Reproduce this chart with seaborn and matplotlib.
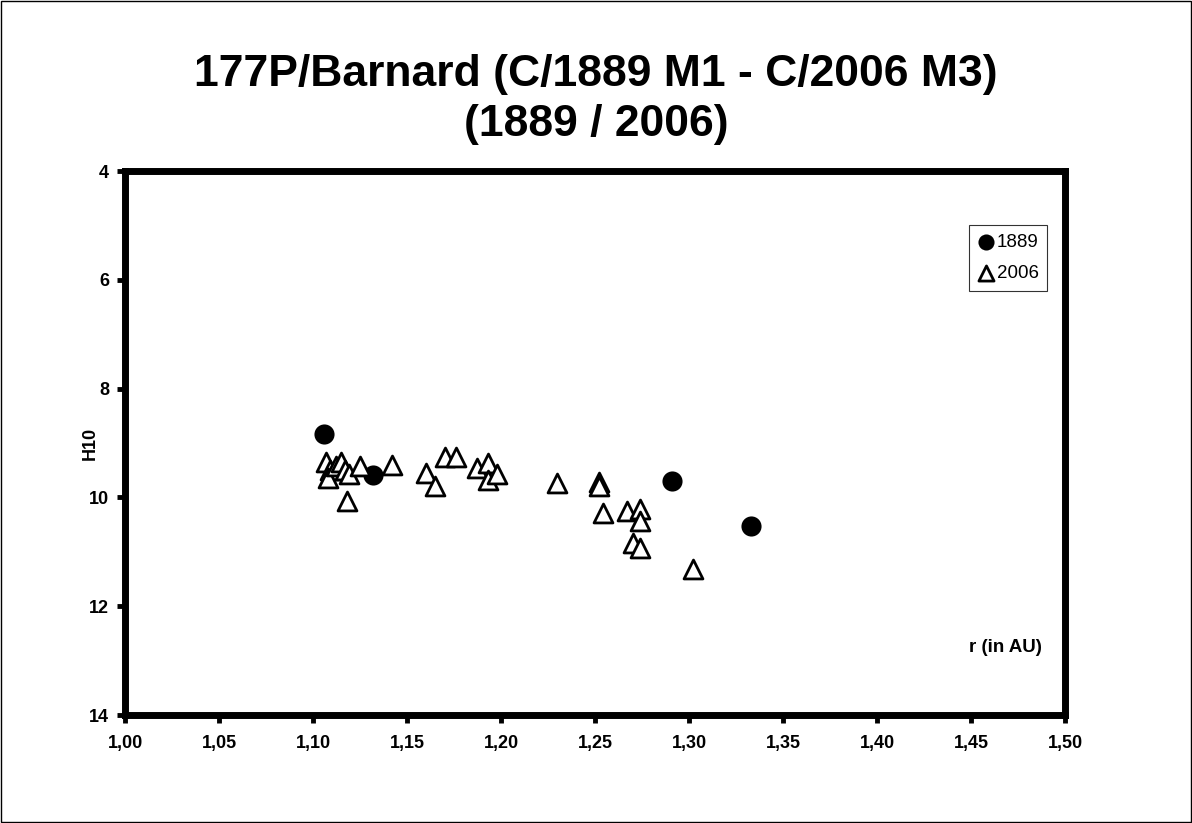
import pandas as pd
import matplotlib.pyplot as plt
import seaborn as sns
from matplotlib.patches import Rectangle

# 1889 apparition
r_1889 = [1.106, 1.132, 1.291, 1.333]
h_1889 = [8.83, 9.59, 9.70, 10.53]

# 2006 apparition
r_2006 = [1.107, 1.109, 1.108, 1.112, 1.115, 1.117, 1.119, 1.125, 1.118, 1.142,
          1.170, 1.176, 1.160, 1.165, 1.187, 1.193, 1.193, 1.198, 1.230, 1.252,
          1.252, 1.254, 1.267, 1.274, 1.274, 1.270, 1.274, 1.302]
h_2006 = [9.35, 9.50, 9.64, 9.42, 9.35, 9.50, 9.57, 9.42, 10.07, 9.40,
          9.26, 9.26, 9.55, 9.79, 9.46, 9.37, 9.68, 9.57, 9.74, 9.72,
          9.79, 10.29, 10.25, 10.21, 10.43, 10.84, 10.93, 11.32]

x_ticks = [1.00, 1.05, 1.10, 1.15, 1.20, 1.25, 1.30, 1.35, 1.40, 1.45, 1.50]
y_ticks = [4, 6, 8, 10, 12, 14]


def main():
    sns.set_style("white")
    plt.rcParams["font.family"] = ["Liberation Sans", "DejaVu Sans"]
    for key in ["text.color", "axes.labelcolor", "xtick.color", "ytick.color"]:
        plt.rcParams[key] = "black"

    df1 = pd.DataFrame({"r": r_1889, "H10": h_1889})
    df2 = pd.DataFrame({"r": r_2006, "H10": h_2006})

    fig = plt.figure(figsize=(11.92, 8.23), dpi=100)
    ax = fig.add_axes([0.1049, 0.1312, 0.7886, 0.661])

    sns.scatterplot(data=df1, x="r", y="H10", ax=ax, marker="o", s=210,
                    color="black", edgecolor="black", linewidth=0, label="1889", zorder=3)
    sns.scatterplot(data=df2, x="r", y="H10", ax=ax, marker="^", s=185,
                    facecolor="white", edgecolor="black", linewidth=2.0, label="2006", zorder=4)

    ax.set_xlim(1.0, 1.5)
    ax.set_ylim(14, 4)
    ax.set_xticks(x_ticks)
    ax.set_xticklabels([f"{v:.2f}".replace(".", ",") for v in x_ticks])
    ax.set_yticks(y_ticks)
    ax.set_yticklabels([str(v) for v in y_ticks])

    for s in ax.spines.values():
        s.set_linewidth(5)
        s.set_color("black")
        s.set_capstyle("projecting")
    ax.tick_params(axis="both", direction="out", length=5.5, width=3.5,
                   color="black", labelcolor="black", labelsize=13, pad=6,
                   bottom=True, left=True)
    ax.tick_params(axis="x", pad=9)
    for lab in ax.get_xticklabels() + ax.get_yticklabels():
        lab.set_fontweight("bold")

    ax.set_xlabel("")
    ax.set_ylabel("H10", fontsize=13, fontweight="bold")
    ax.yaxis.set_label_coords(-0.028, 0.5)
    ax.text(0.975, 0.125, "r (in AU)", transform=ax.transAxes, ha="right",
            va="center", fontsize=13.5, fontweight="bold")

    fig.text(0.5, 0.909, "177P/Barnard (C/1889 M1 - C/2006 M3)", ha="center",
             va="center", fontsize=32, fontweight="bold")
    fig.text(0.5, 0.849, "(1889 / 2006)", ha="center", va="center",
             fontsize=32, fontweight="bold")

    leg = ax.legend(loc="upper right", bbox_to_anchor=(0.981, 0.9), fontsize=13.5,
                    frameon=True, fancybox=False, handletextpad=0.05,
                    handlelength=1.0, borderpad=0.45, labelspacing=0.75,
                    markerscale=0.8, borderaxespad=0)
    leg.get_frame().set_edgecolor("black")
    leg.get_frame().set_linewidth(0.8)

    fig.patches.append(Rectangle((0.001, 0.001), 0.998, 0.998, transform=fig.transFigure,
                                 fill=False, edgecolor="black", linewidth=1))

    fig.savefig("out.png", dpi=100)
    plt.close(fig)


if __name__ == "__main__":
    main()
